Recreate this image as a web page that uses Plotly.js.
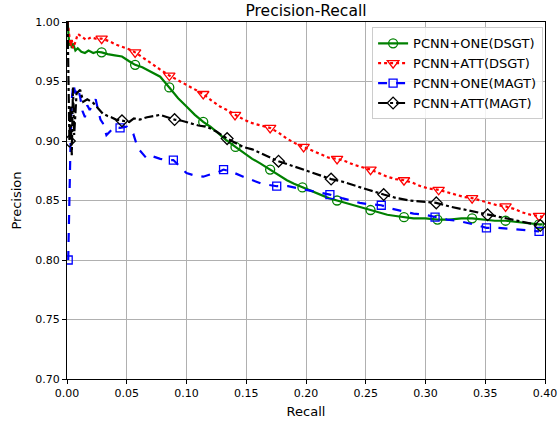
<!DOCTYPE html>
<html><head><meta charset="utf-8">
<script src="https://cdn.plot.ly/plotly-3.0.1.min.js"></script>
<style>html,body{margin:0;padding:0;background:#fff;}#chart{width:559px;height:421px;}</style>
</head><body><div id="chart"></div>
<script>
const seriesNames = ["PCNN+ONE(DSGT)", "PCNN+ATT(DSGT)", "PCNN+ONE(MAGT)", "PCNN+ATT(MAGT)"];

const oneDsgtX = [0.0005,0.001,0.002,0.003,0.004,0.005,0.007,0.009,0.012,0.015,0.018,0.022,0.025,0.029,0.034,0.040,0.046,0.052,0.057,0.063,0.070,0.078,0.0856,0.093,0.100,0.107,0.114,0.120,0.126,0.133,0.141,0.148,0.155,0.162,0.170,0.177,0.184,0.190,0.197,0.205,0.212,0.219,0.226,0.233,0.240,0.247,0.254,0.261,0.268,0.275,0.282,0.290,0.300,0.310,0.320,0.330,0.339,0.348,0.358,0.367,0.375,0.385,0.395,0.398];
const oneDsgtY = [1.0,0.99,0.98,0.985,0.978,0.982,0.976,0.978,0.975,0.974,0.976,0.974,0.975,0.9745,0.973,0.972,0.971,0.967,0.964,0.962,0.958,0.954,0.945,0.936,0.929,0.922,0.916,0.912,0.907,0.901,0.895,0.890,0.885,0.881,0.876,0.872,0.867,0.864,0.861,0.858,0.855,0.852,0.850,0.848,0.846,0.844,0.842,0.840,0.838,0.837,0.836,0.835,0.835,0.834,0.834,0.835,0.835,0.834,0.833,0.833,0.832,0.831,0.830,0.830];
const oneDsgtMarks = [13,18,22,26,30,34,38,42,46,50,53,56,59,62];

const attDsgtX = [0.0005,0.002,0.003,0.004,0.005,0.007,0.009,0.012,0.016,0.020,0.024,0.029,0.035,0.041,0.047,0.052,0.057,0.064,0.071,0.078,0.0856,0.093,0.100,0.107,0.114,0.121,0.128,0.134,0.1406,0.148,0.155,0.162,0.170,0.177,0.184,0.191,0.198,0.205,0.212,0.219,0.226,0.233,0.240,0.247,0.254,0.261,0.268,0.275,0.282,0.289,0.296,0.303,0.311,0.318,0.325,0.332,0.339,0.346,0.353,0.360,0.367,0.374,0.381,0.388,0.395,0.399];
const attDsgtY = [1.0,0.99,0.98,0.985,0.978,0.983,0.990,0.988,0.985,0.987,0.986,0.986,0.984,0.981,0.979,0.977,0.9745,0.970,0.965,0.960,0.955,0.951,0.947,0.943,0.9395,0.934,0.929,0.926,0.922,0.918,0.915,0.913,0.911,0.907,0.902,0.898,0.895,0.892,0.889,0.886,0.885,0.883,0.880,0.878,0.876,0.873,0.870,0.868,0.867,0.865,0.862,0.860,0.859,0.857,0.855,0.853,0.852,0.850,0.848,0.846,0.845,0.843,0.840,0.838,0.837,0.836];
const attDsgtMarks = [11,16,20,24,28,32,36,40,44,48,52,56,60,64];

const oneMagtX = [0.001,0.002,0.003,0.004,0.0053,0.007,0.009,0.011,0.013,0.015,0.017,0.019,0.022,0.024,0.026,0.028,0.030,0.033,0.036,0.040,0.0444,0.050,0.0555,0.058,0.061,0.064,0.067,0.072,0.078,0.084,0.089,0.095,0.100,0.107,0.114,0.120,0.125,0.131,0.138,0.1475,0.155,0.163,0.1755,0.185,0.195,0.205,0.212,0.220,0.230,0.237,0.245,0.252,0.259,0.263,0.272,0.2815,0.290,0.300,0.308,0.318,0.327,0.337,0.344,0.351,0.360,0.373,0.385,0.395];
const oneMagtY = [0.80,0.86,0.90,0.935,0.948,0.940,0.945,0.937,0.925,0.920,0.930,0.926,0.932,0.935,0.926,0.918,0.915,0.905,0.908,0.912,0.911,0.912,0.906,0.898,0.892,0.888,0.885,0.887,0.885,0.884,0.884,0.878,0.873,0.871,0.870,0.872,0.873,0.876,0.874,0.870,0.867,0.864,0.862,0.862,0.860,0.858,0.856,0.855,0.852,0.850,0.848,0.847,0.846,0.846,0.843,0.841,0.839,0.838,0.836,0.834,0.833,0.831,0.829,0.827,0.827,0.826,0.825,0.824];
const oneMagtMarks = [0,20,30,37,42,47,53,58,63,67];

const attMagtX = [0.0005,0.001,0.002,0.003,0.004,0.005,0.006,0.008,0.011,0.0136,0.017,0.022,0.026,0.030,0.034,0.037,0.041,0.046,0.052,0.056,0.061,0.067,0.073,0.078,0.084,0.090,0.096,0.103,0.110,0.117,0.125,0.134,0.141,0.1475,0.155,0.1615,0.169,0.177,0.186,0.195,0.203,0.212,0.221,0.230,0.242,0.252,0.265,0.276,0.287,0.298,0.309,0.320,0.334,0.343,0.352,0.362,0.373,0.385,0.396];
const attMagtY = [1.0,0.95,0.90,0.93,0.888,0.945,0.905,0.94,0.943,0.933,0.935,0.932,0.927,0.923,0.921,0.920,0.918,0.917,0.916,0.919,0.918,0.920,0.921,0.922,0.920,0.918,0.917,0.915,0.913,0.912,0.908,0.902,0.898,0.895,0.893,0.890,0.887,0.883,0.880,0.877,0.874,0.871,0.868,0.866,0.862,0.859,0.855,0.852,0.850,0.849,0.848,0.845,0.842,0.840,0.838,0.836,0.834,0.831,0.829];
const attMagtMarks = [2,17,25,31,37,42,46,50,54,58];

const xTicks = [0,0.05,0.10,0.15,0.20,0.25,0.30,0.35,0.40];
const yTicks = [0.70,0.75,0.80,0.85,0.90,0.95,1.00];

const styles = [
  {color:'#008000', dash:'solid', symbol:'circle-open', size:9},
  {color:'#ff0000', dash:'dot', symbol:'triangle-down-open', size:10},
  {color:'#0000ff', dash:'dash', symbol:'square-open', size:8},
  {color:'#000000', dash:'dashdot', symbol:'diamond-open', size:9}
];
const allX = [oneDsgtX, attDsgtX, oneMagtX, attMagtX];
const allY = [oneDsgtY, attDsgtY, oneMagtY, attMagtY];
const allM = [oneDsgtMarks, attDsgtMarks, oneMagtMarks, attMagtMarks];

const traces = [];
for (let i = 0; i < 4; i++) {
  const s = styles[i];
  traces.push({x: allX[i], y: allY[i], mode:'lines', showlegend:false, hoverinfo:'skip',
    line:{color:s.color, width:2.2, dash:s.dash}});
  traces.push({x: allM[i].map(k => allX[i][k]), y: allM[i].map(k => allY[i][k]), mode:'markers', showlegend:false,
    marker:{symbol:s.symbol, size:s.size, color:s.color, line:{color:s.color, width:1.3}}});
}
for (let i = 0; i < 4; i++) {
  const s = styles[i];
  traces.push({x:[null], y:[null], mode:'lines+markers', name: seriesNames[i],
    line:{color:s.color, width:2.2, dash:s.dash},
    marker:{symbol:s.symbol, size:s.size, color:s.color, line:{color:s.color, width:1.3}}});
}

const axisBase = {showline:true, linecolor:'#000', linewidth:1, mirror:true, ticks:'outside', ticklen:4, tickcolor:'#000',
  showgrid:true, gridcolor:'#b0b0b0', gridwidth:1, zeroline:false, tickfont:{size:11, color:'#000'}};

const layout = {
  width:559, height:421,
  margin:{l:67, r:14, t:22, b:42},
  paper_bgcolor:'#fff', plot_bgcolor:'#fff',
  font:{family:'DejaVu Sans', color:'#000'},
  title:{text:'Precision-Recall', font:{size:15.5}, x:0.5, xref:'paper', y:0.975, yanchor:'middle'},
  xaxis: Object.assign({}, axisBase, {range:[0,0.40], tickvals:xTicks, ticktext:xTicks.map(v=>v.toFixed(2)),
    title:{text:'Recall', font:{size:13}, standoff:7}}),
  yaxis: Object.assign({}, axisBase, {range:[0.70,1.00], tickvals:yTicks, ticktext:yTicks.map(v=>v.toFixed(2)),
    title:{text:'Precision', font:{size:13}, standoff:10}}),
  legend:{x:0.996, y:0.985, xanchor:'right', yanchor:'top', bgcolor:'rgba(255,255,255,0.85)', bordercolor:'#cccccc', borderwidth:1,
    font:{size:13}, itemwidth:30, tracegroupgap:0},
  showlegend:true
};
Plotly.newPlot('chart', traces, layout, {staticPlot:true, displayModeBar:false});
</script></body></html>
